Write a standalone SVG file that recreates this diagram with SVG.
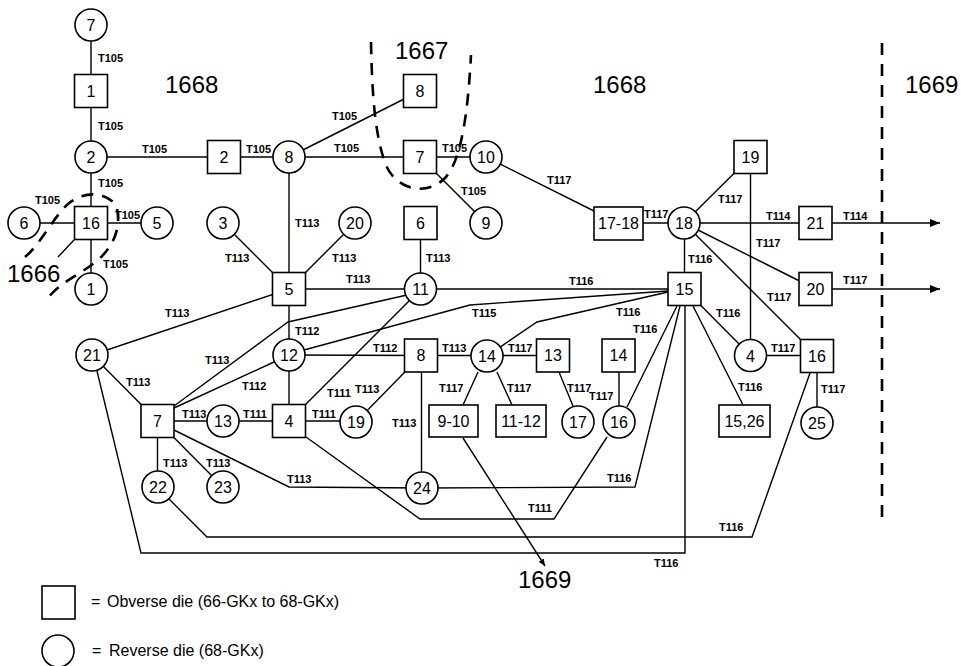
<svg xmlns="http://www.w3.org/2000/svg" width="961" height="666" viewBox="0 0 961 666">
<style>
.n rect,.n circle{fill:#fff;stroke:#000;stroke-width:1.6}
.n text{font-family:"Liberation Sans",Arial,sans-serif;font-size:16px;text-anchor:middle;fill:#000}
.c line,.c polyline{stroke:#000;stroke-width:1.4;fill:none}
.lb text{font-family:"Liberation Sans",Arial,sans-serif;font-size:11px;font-weight:bold;fill:#000}
.big{font-family:"Liberation Sans",Arial,sans-serif;font-size:24px;fill:#000}
.dash{fill:none;stroke:#000;stroke-width:2.6;stroke-dasharray:12 9}
.leg{font-family:"Liberation Sans",Arial,sans-serif;font-size:16px;fill:#000}
</style>
<defs>
<marker id="ah" markerWidth="10" markerHeight="8" refX="10" refY="4" orient="auto" markerUnits="userSpaceOnUse">
<path d="M0,0 L10,4 L0,8 Z" fill="#000"/>
</marker>
<marker id="ahs" markerWidth="7" markerHeight="6" refX="7" refY="3" orient="auto" markerUnits="userSpaceOnUse">
<path d="M0,0 L7,3 L0,6 Z" fill="#000"/>
</marker>
</defs>
<rect width="961" height="666" fill="#fff"/>

<g id="boundaries">
<path class="dash" d="M 25 257 C 40 245, 55 215, 68 204 C 85 190, 105 192, 116 205 C 122 225, 115 245, 98 260 C 80 275, 60 282, 48 298"/>
<path class="dash" d="M 371 42 C 372 100, 376 140, 386 165 C 395 188, 425 198, 445 178 C 462 160, 468 110, 471 55"/>
<line class="dash" x1="882" y1="43" x2="882" y2="522" stroke-dasharray="11 9"/>
<text class="big" x="165" y="93">1668</text>
<text class="big" x="395" y="59">1667</text>
<text class="big" x="593" y="93">1668</text>
<text class="big" x="905" y="93">1669</text>
<text class="big" x="7" y="282">1666</text>
<text class="big" x="518" y="588">1669</text>
</g>

<g id="connectors" class="c">
<line x1="91" y1="25" x2="91" y2="91"/>
<line x1="91" y1="91" x2="91" y2="157"/>
<line x1="91" y1="157" x2="91" y2="223"/>
<line x1="24" y1="223" x2="157" y2="223"/>
<line x1="91" y1="223" x2="91" y2="289"/>
<line x1="91" y1="157" x2="224" y2="157"/>
<line x1="224" y1="157" x2="289" y2="157"/>
<line x1="289" y1="157" x2="420" y2="91"/>
<line x1="289" y1="157" x2="486" y2="157"/>
<line x1="420" y1="157" x2="486" y2="223"/>
<line x1="486" y1="157" x2="618" y2="223"/>
<line x1="618" y1="223" x2="684" y2="223"/>
<line x1="684" y1="223" x2="750.5" y2="157"/>
<line x1="750.5" y1="157" x2="750.5" y2="355"/>
<line x1="684" y1="223" x2="815.5" y2="223"/>
<line x1="832" y1="223" x2="940" y2="223" marker-end="url(#ah)"/>
<line x1="684" y1="223" x2="815.5" y2="289"/>
<line x1="684" y1="223" x2="817" y2="356"/>
<line x1="832" y1="289" x2="940" y2="289" marker-end="url(#ah)"/>
<line x1="684.5" y1="223" x2="684.5" y2="289"/>
<line x1="289" y1="157" x2="289" y2="289"/>
<line x1="223" y1="223" x2="289" y2="289"/>
<line x1="355" y1="223" x2="289" y2="289"/>
<line x1="420.5" y1="223" x2="420.5" y2="289"/>
<line x1="289" y1="289" x2="684.5" y2="289"/>
<line x1="289" y1="289" x2="92" y2="355"/>
<line x1="289" y1="289" x2="289" y2="421"/>
<polyline points="174,406 288,322 407,295"/>
<line x1="174" y1="408" x2="274" y2="362"/>
<line x1="289" y1="355" x2="421" y2="355.5"/>
<polyline points="304,350 470,305 668,291"/>
<line x1="421" y1="355.5" x2="553" y2="355.5"/>
<polyline points="487,356 537,322 668,292"/>
<line x1="478" y1="372" x2="463" y2="405"/>
<line x1="497" y1="372" x2="512" y2="405"/>
<line x1="559" y1="372" x2="573" y2="406"/>
<line x1="619" y1="355" x2="619" y2="422"/>
<line x1="677" y1="306" x2="627" y2="407"/>
<line x1="684.5" y1="289" x2="750" y2="355"/>
<line x1="750" y1="355.5" x2="817" y2="355.5"/>
<line x1="693" y1="306" x2="743" y2="405"/>
<line x1="817" y1="356" x2="817" y2="423"/>
<polyline points="680,306 635,487 422,488"/>
<polyline points="685,306 685,553 141,553 97,371"/>
<polyline points="810,373 752,537 207,537 169,499"/>
<polyline points="306,437 420,519 554,519 607,437"/>
<line x1="289" y1="421" x2="421" y2="289"/>
<line x1="421" y1="355.5" x2="356" y2="422"/>
<line x1="421.5" y1="355.5" x2="421.5" y2="488"/>
<line x1="92" y1="355" x2="157.5" y2="421"/>
<line x1="157.5" y1="421" x2="356" y2="421"/>
<line x1="157.5" y1="421" x2="157.5" y2="487"/>
<line x1="157.5" y1="421" x2="223" y2="487"/>
<polyline points="174,430 289,487 422,488"/>
<line x1="463" y1="438" x2="545" y2="566" stroke-width="0.8" marker-end="url(#ahs)"/>
<line x1="74" y1="240" x2="58" y2="257" stroke-width="0.8"/>
</g>

<g id="labels" class="lb">
<text x="98" y="62">T105</text><text x="98" y="130">T105</text><text x="142" y="153">T105</text>
<text x="246" y="153">T105</text><text x="98" y="187">T105</text><text x="35" y="204">T105</text>
<text x="115" y="219">T105</text><text x="103" y="268">T105</text><text x="332" y="120">T105</text>
<text x="334" y="152">T105</text><text x="442" y="152">T105</text><text x="461" y="195">T105</text>
<text x="547" y="184">T117</text><text x="644" y="218">T117</text><text x="718" y="203">T117</text>
<text x="756" y="247">T117</text><text x="767" y="301">T117</text><text x="843" y="284">T117</text>
<text x="771" y="352">T117</text><text x="821" y="393">T117</text><text x="589" y="400">T117</text>
<text x="567" y="392">T117</text><text x="507" y="392">T117</text><text x="439" y="392">T117</text>
<text x="508" y="352">T117</text>
<text x="766" y="220">T114</text><text x="843" y="220">T114</text>
<text x="688" y="263">T116</text><text x="569" y="285">T116</text><text x="716" y="317">T116</text>
<text x="616" y="316">T116</text><text x="633" y="333">T116</text><text x="738" y="391">T116</text>
<text x="607" y="482">T116</text><text x="719" y="531">T116</text><text x="654" y="567">T116</text>
<text x="295" y="227">T113</text><text x="225" y="262">T113</text><text x="332" y="262">T113</text>
<text x="426" y="262">T113</text><text x="346" y="283">T113</text><text x="165" y="317">T113</text>
<text x="205" y="364">T113</text><text x="126" y="386">T113</text><text x="182" y="418">T113</text>
<text x="355" y="393">T113</text><text x="442" y="352">T113</text><text x="392" y="427">T113</text>
<text x="163" y="467">T113</text><text x="206" y="467">T113</text><text x="287" y="483">T113</text>
<text x="295" y="335">T112</text><text x="242" y="390">T112</text><text x="373" y="352">T112</text>
<text x="243" y="418">T111</text><text x="312" y="418">T111</text><text x="327" y="397">T111</text>
<text x="528" y="512">T111</text>
<text x="472" y="317">T115</text>
</g>

<g class="n">
<g id="r7a"><circle cx="91" cy="25" r="16"/><text x="91" y="31">7</text></g>
<g id="o1"><rect x="74.5" y="74.5" width="33" height="33"/><text x="91" y="97">1</text></g>
<g id="r2"><circle cx="91" cy="157" r="16"/><text x="91" y="163">2</text></g>
<g id="o16a"><rect x="74.5" y="206.5" width="33" height="33"/><text x="91" y="229">16</text></g>
<g id="r6"><circle cx="24" cy="223" r="16"/><text x="24" y="229">6</text></g>
<g id="r5"><circle cx="157" cy="223" r="16"/><text x="157" y="229">5</text></g>
<g id="r1"><circle cx="91" cy="289" r="16"/><text x="91" y="295">1</text></g>
<g id="o2"><rect x="207.5" y="140.5" width="33" height="33"/><text x="224" y="163">2</text></g>
<g id="r8"><circle cx="289" cy="157" r="16"/><text x="289" y="163">8</text></g>
<g id="o8a"><rect x="403.5" y="74.5" width="33" height="33"/><text x="420" y="97">8</text></g>
<g id="o7a"><rect x="403.5" y="140.5" width="33" height="33"/><text x="420" y="163">7</text></g>
<g id="r10"><circle cx="486" cy="157" r="16"/><text x="486" y="163">10</text></g>
<g id="r9"><circle cx="486" cy="223" r="16"/><text x="486" y="229">9</text></g>
<g id="r3"><circle cx="223" cy="223" r="16"/><text x="223" y="229">3</text></g>
<g id="o5"><rect x="272.5" y="272.5" width="33" height="33"/><text x="289" y="295">5</text></g>
<g id="r20"><circle cx="355" cy="223" r="16"/><text x="355" y="229">20</text></g>
<g id="o6"><rect x="404" y="206.5" width="33" height="33"/><text x="420.5" y="229">6</text></g>
<g id="r11"><circle cx="420.5" cy="289" r="16"/><text x="420.5" y="295">11</text></g>
<g id="o1718"><rect x="594" y="207" width="49" height="33"/><text x="618.5" y="229">17-18</text></g>
<g id="r18"><circle cx="684" cy="223" r="16"/><text x="684" y="229">18</text></g>
<g id="o19"><rect x="734" y="140.5" width="33" height="33"/><text x="750.5" y="163">19</text></g>
<g id="o21"><rect x="799" y="206.5" width="33" height="33"/><text x="815.5" y="229">21</text></g>
<g id="o20"><rect x="799" y="272.5" width="33" height="33"/><text x="815.5" y="295">20</text></g>
<g id="o15"><rect x="668" y="272.5" width="33" height="33"/><text x="684.5" y="295">15</text></g>
<g id="r21"><circle cx="92" cy="355" r="16"/><text x="92" y="361">21</text></g>
<g id="r12"><circle cx="289" cy="355" r="16"/><text x="289" y="361">12</text></g>
<g id="o8b"><rect x="404.5" y="339" width="33" height="33"/><text x="421" y="361">8</text></g>
<g id="r14"><circle cx="487" cy="356" r="16"/><text x="487" y="362">14</text></g>
<g id="o13"><rect x="536.5" y="339" width="33" height="33"/><text x="553" y="361">13</text></g>
<g id="o14"><rect x="602" y="339" width="33" height="33"/><text x="618.5" y="361">14</text></g>
<g id="r4"><circle cx="750.5" cy="355.5" r="16"/><text x="750.5" y="361.5">4</text></g>
<g id="o16b"><rect x="800.5" y="339.5" width="33" height="33"/><text x="817" y="362">16</text></g>
<g id="o7b"><rect x="141" y="404.5" width="33" height="33"/><text x="157.5" y="427">7</text></g>
<g id="r13"><circle cx="223" cy="421" r="16"/><text x="223" y="427">13</text></g>
<g id="o4"><rect x="272.5" y="404.5" width="33" height="33"/><text x="289" y="427">4</text></g>
<g id="r19"><circle cx="356" cy="422" r="16"/><text x="356" y="428">19</text></g>
<g id="o910"><rect x="429" y="405" width="49" height="32"/><text x="453.5" y="427">9-10</text></g>
<g id="o1112"><rect x="496" y="405" width="50" height="32"/><text x="521" y="427">11-12</text></g>
<g id="r17"><circle cx="578" cy="422" r="16"/><text x="578" y="428">17</text></g>
<g id="r16"><circle cx="619" cy="422" r="16"/><text x="619" y="428">16</text></g>
<g id="o1526"><rect x="719" y="405" width="51" height="32"/><text x="744.5" y="427">15,26</text></g>
<g id="r25"><circle cx="817" cy="423" r="16"/><text x="817" y="429">25</text></g>
<g id="r22"><circle cx="158" cy="487" r="16"/><text x="158" y="493">22</text></g>
<g id="r23"><circle cx="223" cy="487" r="16"/><text x="223" y="493">23</text></g>
<g id="r24"><circle cx="422" cy="488" r="16"/><text x="422" y="494">24</text></g>
</g>

<g id="legend">
<rect x="42" y="586" width="33" height="33" fill="#fff" stroke="#000" stroke-width="1.6"/>
<text class="leg" x="91" y="607">=</text>
<text class="leg" x="107" y="607">Obverse die (66-GKx to 68-GKx)</text>
<circle cx="58" cy="651" r="16" fill="#fff" stroke="#000" stroke-width="1.6"/>
<text class="leg" x="92" y="656">=</text>
<text class="leg" x="109" y="656">Reverse die (68-GKx)</text>
</g>
</svg>
